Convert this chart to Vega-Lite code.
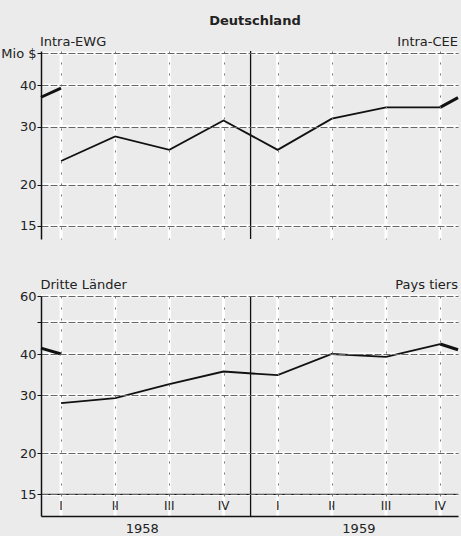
{
  "$schema": "https://vega.github.io/schema/vega-lite/v6.json",
  "background": "#ebebeb",
  "autosize": {"type": "pad"},
  "padding": {"left": 0, "top": 15, "right": 3, "bottom": 0},
  "config": {
    "view": {"stroke": null},
    "font": "DejaVu Sans",
    "text": {"font": "DejaVu Sans", "color": "#222"}
  },
  "spacing": 57,
  "bounds": "flush",
  "datasets": {
    "topMain": [
      {"q": 1, "v": 23.6}, {"q": 2, "v": 28.0}, {"q": 3, "v": 25.5}, {"q": 4, "v": 31.3},
      {"q": 5, "v": 25.5}, {"q": 6, "v": 31.7}, {"q": 7, "v": 34.3}, {"q": 8, "v": 34.3}
    ],
    "topEdge": [
      {"q": 0.63, "v": 36.8, "s": "L"}, {"q": 1, "v": 39.2, "s": "L"},
      {"q": 8, "v": 34.3, "s": "R"}, {"q": 8.33, "v": 36.7, "s": "R"}
    ],
    "botMain": [
      {"q": 1, "v": 28.4}, {"q": 2, "v": 29.4}, {"q": 3, "v": 32.4}, {"q": 4, "v": 35.4},
      {"q": 5, "v": 34.5}, {"q": 6, "v": 40.0}, {"q": 7, "v": 39.2}, {"q": 8, "v": 42.9}
    ],
    "botEdge": [
      {"q": 0.63, "v": 41.7, "s": "L"}, {"q": 1, "v": 40.0, "s": "L"},
      {"q": 8, "v": 42.9, "s": "R"}, {"q": 8.33, "v": 41.2, "s": "R"}
    ],
    "topTicks": [{"v": 15}, {"v": 20}, {"v": 30}, {"v": 40}, {"v": 50}],
    "botTicks": [{"v": 15}, {"v": 20}, {"v": 30}, {"v": 40}, {"v": 50}, {"v": 60}],
    "divider": [{"q": 4.5}],
    "quarters": [
      {"q": 1, "r": "I"}, {"q": 2, "r": "II"}, {"q": 3, "r": "III"}, {"q": 4, "r": "IV"},
      {"q": 5, "r": "I"}, {"q": 6, "r": "II"}, {"q": 7, "r": "III"}, {"q": 8, "r": "IV"}
    ],
    "years": [{"q": 2.5, "year": "1958"}, {"q": 6.5, "year": "1959"}]
  },
  "vconcat": [
    {
      "width": 417,
      "height": 188,
      "layer": [
        {
          "data": {"name": "topTicks"},
          "mark": {"type": "rule", "color": "#ffffff", "strokeWidth": 3},
          "encoding": {"y": {"field": "v", "type": "quantitative", "axis": {"title": null}}}
        },
        {
          "data": {"name": "quarters"},
          "mark": {"type": "rule", "color": "#ffffff", "strokeWidth": 3},
          "encoding": {"x": {"field": "q", "type": "quantitative", "axis": {"title": null}}}
        },
        {
          "data": {"name": "divider"},
          "mark": {"type": "rule", "color": "#111", "strokeWidth": 1.3},
          "encoding": {"x": {"field": "q", "type": "quantitative", "axis": {"title": null}}}
        },
        {
          "data": {"name": "topMain"},
          "mark": {"type": "line", "color": "#111", "strokeWidth": 1.8},
          "encoding": {
            "x": {"field": "q", "type": "quantitative",
              "scale": {"domain": [0.63, 8.33], "nice": false, "zero": false},
              "axis": {"values": [1, 2, 3, 4, 5, 6, 7, 8], "labels": false, "ticks": false, "domain": false,
                "grid": true, "gridColor": "#777", "gridDash": [2, 9], "gridWidth": 1, "title": null, "zindex": 1}},
            "y": {"field": "v", "type": "quantitative",
              "scale": {"type": "log", "domain": [13.7, 50.8], "nice": false, "zero": false},
              "axis": {"values": [15, 20, 30, 40, 50], "labelExpr": "datum.value == 50 ? 'Mio $' : datum.label",
                "domain": true, "domainColor": "#111", "domainWidth": 1.5, "ticks": true, "tickSize": 4,
                "tickColor": "#111", "labelFontSize": 13, "labelColor": "#222", "labelPadding": 1,
                "grid": true, "gridColor": "#666", "gridDash": [7, 2], "gridWidth": 1, "title": null, "zindex": 1}}
          }
        },
        {
          "data": {"name": "topEdge"},
          "mark": {"type": "line", "color": "#111", "strokeWidth": 3},
          "encoding": {
            "x": {"field": "q", "type": "quantitative", "axis": {"title": null}},
            "y": {"field": "v", "type": "quantitative", "axis": {"title": null}},
            "detail": {"field": "s"}
          }
        },
        {
          "data": {"values": [{"t": "Deutschland"}]},
          "mark": {"type": "text", "fontWeight": "bold", "fontSize": 13, "align": "center", "baseline": "middle"},
          "encoding": {
            "x": {"datum": 4.58, "type": "quantitative", "axis": {"title": null}},
            "y": {"datum": 62.6, "type": "quantitative", "axis": {"title": null}},
            "text": {"field": "t"}
          }
        },
        {
          "data": {"values": [{"t": "Intra-EWG"}]},
          "mark": {"type": "text", "fontSize": 13, "align": "left", "baseline": "middle"},
          "encoding": {
            "x": {"datum": 0.61, "type": "quantitative", "axis": {"title": null}},
            "y": {"datum": 54.1, "type": "quantitative", "axis": {"title": null}},
            "text": {"field": "t"}
          }
        },
        {
          "data": {"values": [{"t": "Intra-CEE"}]},
          "mark": {"type": "text", "fontSize": 13, "align": "right", "baseline": "middle"},
          "encoding": {
            "x": {"datum": 8.33, "type": "quantitative", "axis": {"title": null}},
            "y": {"datum": 54.1, "type": "quantitative", "axis": {"title": null}},
            "text": {"field": "t"}
          }
        }
      ]
    },
    {
      "width": 417,
      "height": 220,
      "layer": [
        {
          "data": {"name": "botTicks"},
          "mark": {"type": "rule", "color": "#ffffff", "strokeWidth": 3},
          "encoding": {"y": {"field": "v", "type": "quantitative", "axis": {"title": null}}}
        },
        {
          "data": {"name": "quarters"},
          "mark": {"type": "rule", "color": "#ffffff", "strokeWidth": 3},
          "encoding": {"x": {"field": "q", "type": "quantitative", "axis": {"title": null}}}
        },
        {
          "data": {"name": "divider"},
          "mark": {"type": "rule", "color": "#111", "strokeWidth": 1.3},
          "encoding": {"x": {"field": "q", "type": "quantitative", "axis": {"title": null}}}
        },
        {
          "data": {"name": "botMain"},
          "mark": {"type": "line", "color": "#111", "strokeWidth": 1.8},
          "encoding": {
            "x": {"field": "q", "type": "quantitative",
              "scale": {"domain": [0.63, 8.33], "nice": false, "zero": false},
              "axis": {"values": [1, 2, 3, 4, 5, 6, 7, 8], "labels": false, "ticks": false, "domain": true,
                "domainColor": "#111", "domainWidth": 1.5,
                "grid": true, "gridColor": "#777", "gridDash": [2, 9], "gridWidth": 1, "title": null, "zindex": 1}},
            "y": {"field": "v", "type": "quantitative",
              "scale": {"type": "log", "domain": [12.9, 60], "nice": false, "zero": false},
              "axis": {"values": [15, 20, 30, 40, 50, 60], "labelExpr": "datum.value == 50 ? '' : datum.label",
                "domain": true, "domainColor": "#111", "domainWidth": 1.5, "ticks": true, "tickSize": 4,
                "tickColor": "#111", "labelFontSize": 13, "labelColor": "#222", "labelPadding": 1,
                "grid": true, "gridColor": "#666", "gridDash": [7, 2], "gridWidth": 1, "title": null, "zindex": 1}}
          }
        },
        {
          "data": {"name": "botEdge"},
          "mark": {"type": "line", "color": "#111", "strokeWidth": 3},
          "encoding": {
            "x": {"field": "q", "type": "quantitative", "axis": {"title": null}},
            "y": {"field": "v", "type": "quantitative", "axis": {"title": null}},
            "detail": {"field": "s"}
          }
        },
        {
          "data": {"values": [{"v": 15}]},
          "mark": {"type": "rule", "color": "#111", "strokeWidth": 1.2},
          "encoding": {"y": {"field": "v", "type": "quantitative", "axis": {"title": null}}}
        },
        {
          "data": {"name": "quarters"},
          "mark": {"type": "text", "fontSize": 12, "align": "center", "baseline": "middle"},
          "encoding": {
            "x": {"field": "q", "type": "quantitative", "axis": {"title": null}},
            "y": {"datum": 13.83, "type": "quantitative", "axis": {"title": null}},
            "text": {"field": "r"}
          }
        },
        {
          "data": {"name": "years"},
          "mark": {"type": "text", "fontSize": 13, "align": "center", "baseline": "middle"},
          "encoding": {
            "x": {"field": "q", "type": "quantitative", "axis": {"title": null}},
            "y": {"datum": 11.78, "type": "quantitative", "axis": {"title": null}},
            "text": {"field": "year"}
          }
        },
        {
          "data": {"values": [{"t": "Dritte Länder"}]},
          "mark": {"type": "text", "fontSize": 13, "align": "left", "baseline": "middle"},
          "encoding": {
            "x": {"datum": 0.62, "type": "quantitative", "axis": {"title": null}},
            "y": {"datum": 64.8, "type": "quantitative", "axis": {"title": null}},
            "text": {"field": "t"}
          }
        },
        {
          "data": {"values": [{"t": "Pays tiers"}]},
          "mark": {"type": "text", "fontSize": 13, "align": "right", "baseline": "middle"},
          "encoding": {
            "x": {"datum": 8.33, "type": "quantitative", "axis": {"title": null}},
            "y": {"datum": 64.8, "type": "quantitative", "axis": {"title": null}},
            "text": {"field": "t"}
          }
        }
      ]
    }
  ]
}
